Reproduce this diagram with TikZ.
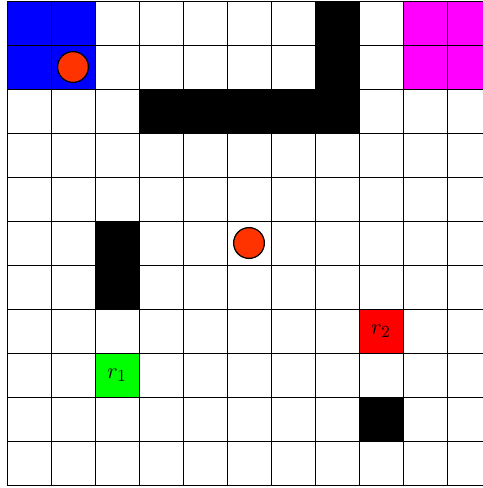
\documentclass[tikz,border=0pt]{standalone}
\definecolor{cellblue}{RGB}{0,0,255}
\definecolor{cellmag}{RGB}{255,0,255}
\definecolor{cellred}{RGB}{255,0,0}
\definecolor{cellgreen}{RGB}{0,255,0}
\definecolor{ballorange}{RGB}{255,51,0}
\tikzset{
  gridline/.style={draw=black,line width=0.55pt},
  wall/.style={fill=black},
  ball/.style={circle,draw=black,line width=0.8pt,fill=ballorange,minimum size=0.7cm,inner sep=0pt},
  robotlabel/.style={font=\fontsize{15}{17}\selectfont,inner sep=0pt}
}
\begin{document}
\begin{tikzpicture}[x=1cm,y=1cm]
\useasboundingbox (-0.159,-0.068) rectangle (10.818,11.023);
% coloured cells
\fill[cellblue] (0,9) rectangle (2,11);
\fill[cellmag] (9,9) rectangle (11,11);
\fill[cellred] (8,3) rectangle (9,4);
\fill[cellgreen] (2,2) rectangle (3,3);
% walls
\fill[wall] (7,8) rectangle (8,11);
\fill[wall] (3,8) rectangle (8,9);
\fill[wall] (2,4) rectangle (3,6);
\fill[wall] (8,1) rectangle (9,2);
% grid
\draw[gridline] (0,0) grid (11,11);
% balls
\node[ball] (b1) at (1.5,9.5) {};
\node[ball] (b2) at (5.5,5.5) {};
% robots
\node[robotlabel] (r1) at (2.5,2.5) {$r_1$};
\node[robotlabel] (r2) at (8.5,3.5) {$r_2$};
\end{tikzpicture}
\end{document}
